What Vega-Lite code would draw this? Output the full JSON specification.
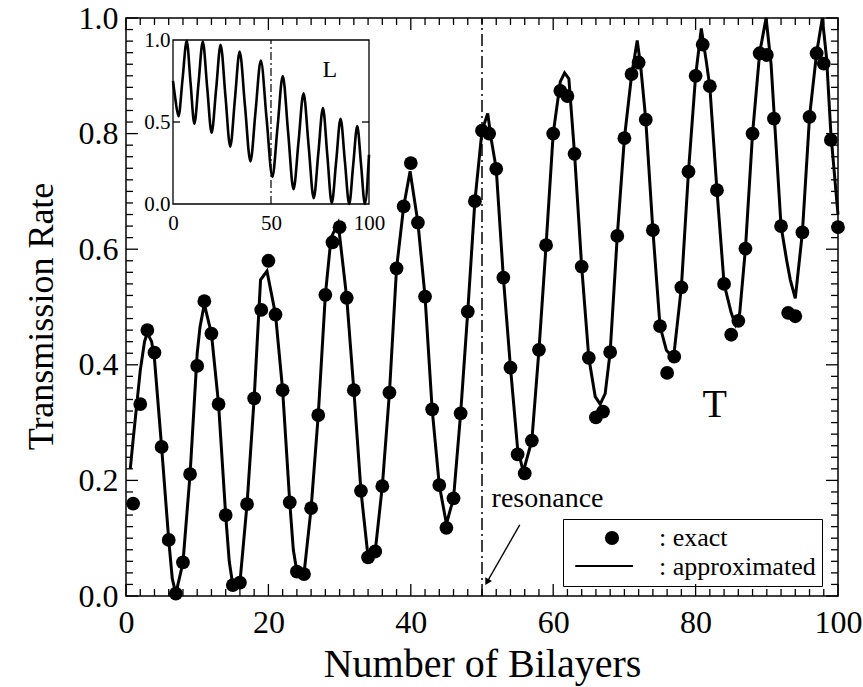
{
  "$schema": "https://vega.github.io/schema/vega-lite/v6.json",
  "width": 712,
  "height": 578,
  "autosize": {"type": "none"},
  "padding": {"left": 126, "top": 18, "right": 25, "bottom": 91},
  "background": "white",
  "config": {
    "view": {"stroke": "black", "strokeWidth": 1.5},
    "font": "Liberation Serif",
    "axis": {"domain": false, "grid": false, "labelColor": "black", "titleColor": "black", "labelFont": "Liberation Serif", "titleFont": "Liberation Serif", "titleFontWeight": "normal", "labelFlush": false, "labelOverlap": false}
  },
  "datasets": {
    "exact": [
      {"N":1,"T":0.160,"series":"exact"},{"N":2,"T":0.332,"series":"exact"},{"N":3,"T":0.460,"series":"exact"},{"N":4,"T":0.421,"series":"exact"},{"N":5,"T":0.258,"series":"exact"},
      {"N":6,"T":0.097,"series":"exact"},{"N":7,"T":0.004,"series":"exact"},{"N":8,"T":0.058,"series":"exact"},{"N":9,"T":0.211,"series":"exact"},{"N":10,"T":0.398,"series":"exact"},
      {"N":11,"T":0.510,"series":"exact"},{"N":12,"T":0.454,"series":"exact"},{"N":13,"T":0.332,"series":"exact"},{"N":14,"T":0.140,"series":"exact"},{"N":15,"T":0.019,"series":"exact"},
      {"N":16,"T":0.023,"series":"exact"},{"N":17,"T":0.159,"series":"exact"},{"N":18,"T":0.342,"series":"exact"},{"N":19,"T":0.495,"series":"exact"},{"N":20,"T":0.580,"series":"exact"},
      {"N":21,"T":0.487,"series":"exact"},{"N":22,"T":0.356,"series":"exact"},{"N":23,"T":0.162,"series":"exact"},{"N":24,"T":0.042,"series":"exact"},{"N":25,"T":0.038,"series":"exact"},
      {"N":26,"T":0.152,"series":"exact"},{"N":27,"T":0.313,"series":"exact"},{"N":28,"T":0.521,"series":"exact"},{"N":29,"T":0.612,"series":"exact"},{"N":30,"T":0.638,"series":"exact"},
      {"N":31,"T":0.516,"series":"exact"},{"N":32,"T":0.356,"series":"exact"},{"N":33,"T":0.182,"series":"exact"},{"N":34,"T":0.067,"series":"exact"},{"N":35,"T":0.077,"series":"exact"},
      {"N":36,"T":0.190,"series":"exact"},{"N":37,"T":0.352,"series":"exact"},{"N":38,"T":0.567,"series":"exact"},{"N":39,"T":0.674,"series":"exact"},{"N":40,"T":0.749,"series":"exact"},
      {"N":41,"T":0.646,"series":"exact"},{"N":42,"T":0.518,"series":"exact"},{"N":43,"T":0.323,"series":"exact"},{"N":44,"T":0.192,"series":"exact"},{"N":45,"T":0.118,"series":"exact"},
      {"N":46,"T":0.169,"series":"exact"},{"N":47,"T":0.316,"series":"exact"},{"N":48,"T":0.492,"series":"exact"},{"N":49,"T":0.683,"series":"exact"},{"N":50,"T":0.805,"series":"exact"},
      {"N":51,"T":0.800,"series":"exact"},{"N":52,"T":0.739,"series":"exact"},{"N":53,"T":0.551,"series":"exact"},{"N":54,"T":0.395,"series":"exact"},{"N":55,"T":0.245,"series":"exact"},
      {"N":56,"T":0.212,"series":"exact"},{"N":57,"T":0.269,"series":"exact"},{"N":58,"T":0.426,"series":"exact"},{"N":59,"T":0.607,"series":"exact"},{"N":60,"T":0.800,"series":"exact"},
      {"N":61,"T":0.874,"series":"exact"},{"N":62,"T":0.865,"series":"exact"},{"N":63,"T":0.765,"series":"exact"},{"N":64,"T":0.570,"series":"exact"},{"N":65,"T":0.412,"series":"exact"},
      {"N":66,"T":0.309,"series":"exact"},{"N":67,"T":0.319,"series":"exact"},{"N":68,"T":0.422,"series":"exact"},{"N":69,"T":0.623,"series":"exact"},{"N":70,"T":0.792,"series":"exact"},
      {"N":71,"T":0.903,"series":"exact"},{"N":72,"T":0.923,"series":"exact"},{"N":73,"T":0.824,"series":"exact"},{"N":74,"T":0.633,"series":"exact"},{"N":75,"T":0.467,"series":"exact"},
      {"N":76,"T":0.386,"series":"exact"},{"N":77,"T":0.414,"series":"exact"},{"N":78,"T":0.534,"series":"exact"},{"N":79,"T":0.734,"series":"exact"},{"N":80,"T":0.900,"series":"exact"},
      {"N":81,"T":0.954,"series":"exact"},{"N":82,"T":0.882,"series":"exact"},{"N":83,"T":0.702,"series":"exact"},{"N":84,"T":0.540,"series":"exact"},{"N":85,"T":0.452,"series":"exact"},
      {"N":86,"T":0.476,"series":"exact"},{"N":87,"T":0.601,"series":"exact"},{"N":88,"T":0.800,"series":"exact"},{"N":89,"T":0.939,"series":"exact"},{"N":90,"T":0.936,"series":"exact"},
      {"N":91,"T":0.826,"series":"exact"},{"N":92,"T":0.640,"series":"exact"},{"N":93,"T":0.490,"series":"exact"},{"N":94,"T":0.484,"series":"exact"},{"N":95,"T":0.629,"series":"exact"},
      {"N":96,"T":0.829,"series":"exact"},{"N":97,"T":0.939,"series":"exact"},{"N":98,"T":0.921,"series":"exact"},{"N":99,"T":0.789,"series":"exact"},{"N":100,"T":0.638,"series":"exact"}
    ],
    "approx": [
      {"N":0.6,"T":0.22},{"N":1,"T":0.27},{"N":2,"T":0.39},{"N":2.6,"T":0.44},{"N":3,"T":0.455},{"N":3.6,"T":0.44},{"N":4,"T":0.41},{"N":5,"T":0.258},{"N":6,"T":0.097},{"N":6.5,"T":0.03},
      {"N":7,"T":0.004},{"N":8,"T":0.058},{"N":9,"T":0.211},{"N":10,"T":0.42},{"N":10.4,"T":0.466},{"N":11,"T":0.505},{"N":12,"T":0.454},{"N":13,"T":0.332},{"N":14,"T":0.14},{"N":14.5,"T":0.06},
      {"N":15,"T":0.019},{"N":16,"T":0.023},{"N":17,"T":0.159},{"N":18,"T":0.342},{"N":18.9,"T":0.547},{"N":19.8,"T":0.562},{"N":21,"T":0.487},{"N":22,"T":0.356},{"N":23,"T":0.162},{"N":23.5,"T":0.08},
      {"N":24,"T":0.042},{"N":25,"T":0.038},{"N":26,"T":0.152},{"N":27,"T":0.313},{"N":28,"T":0.521},{"N":28.8,"T":0.62},{"N":29.8,"T":0.645},{"N":31,"T":0.516},{"N":32,"T":0.356},{"N":33,"T":0.182},
      {"N":34,"T":0.067},{"N":35,"T":0.077},{"N":36,"T":0.19},{"N":37,"T":0.352},{"N":38,"T":0.567},{"N":39,"T":0.674},{"N":39.9,"T":0.735},{"N":41,"T":0.646},{"N":42,"T":0.518},{"N":43,"T":0.323},
      {"N":44,"T":0.192},{"N":45,"T":0.125},{"N":46,"T":0.169},{"N":47,"T":0.316},{"N":48,"T":0.492},{"N":49,"T":0.683},{"N":50,"T":0.805},{"N":50.8,"T":0.835},{"N":51.3,"T":0.79},{"N":52,"T":0.739},
      {"N":53,"T":0.551},{"N":54,"T":0.395},{"N":55,"T":0.255},{"N":55.8,"T":0.215},{"N":57,"T":0.269},{"N":58,"T":0.426},{"N":59,"T":0.607},{"N":60,"T":0.80},{"N":61,"T":0.89},{"N":61.6,"T":0.905},
      {"N":62.2,"T":0.895},{"N":63,"T":0.765},{"N":64,"T":0.57},{"N":65,"T":0.412},{"N":65.9,"T":0.345},{"N":66.6,"T":0.332},{"N":67.3,"T":0.35},{"N":68,"T":0.422},{"N":69,"T":0.623},{"N":70,"T":0.792},
      {"N":71,"T":0.90},{"N":71.8,"T":0.961},{"N":72.3,"T":0.915},{"N":73,"T":0.824},{"N":74,"T":0.633},{"N":75,"T":0.467},{"N":75.9,"T":0.425},{"N":76.9,"T":0.412},{"N":78,"T":0.534},{"N":79,"T":0.734},
      {"N":80,"T":0.90},{"N":80.8,"T":0.982},{"N":81.5,"T":0.925},{"N":82,"T":0.881},{"N":83,"T":0.702},{"N":84,"T":0.54},{"N":85,"T":0.49},{"N":85.6,"T":0.47},{"N":86.2,"T":0.49},{"N":87,"T":0.601},
      {"N":88,"T":0.80},{"N":89,"T":0.94},{"N":89.9,"T":1.0},{"N":90.6,"T":0.92},{"N":91,"T":0.84},{"N":92,"T":0.64},{"N":92.8,"T":0.58},{"N":93.3,"T":0.547},{"N":94,"T":0.515},{"N":95,"T":0.629},
      {"N":96,"T":0.829},{"N":97,"T":0.94},{"N":97.8,"T":1.0},{"N":98.4,"T":0.93},{"N":99,"T":0.80},{"N":100,"T":0.66}
    ],
    "refl": [
      {"N":0,"L":0.75},{"N":1.2,"L":0.64},{"N":2.8,"L":0.535},{"N":4.9,"L":0.765},{"N":7,"L":0.995},{"N":8.95,"L":0.74},{"N":10.9,"L":0.49},{"N":13.05,"L":0.74},{"N":15.2,"L":0.99},
      {"N":17.45,"L":0.71},{"N":19.7,"L":0.435},{"N":22,"L":0.70},{"N":24.3,"L":0.97},{"N":26.75,"L":0.66},{"N":29.2,"L":0.35},{"N":31.6,"L":0.64},{"N":34,"L":0.93},{"N":36.75,"L":0.595},
      {"N":39.5,"L":0.26},{"N":42.15,"L":0.57},{"N":44.8,"L":0.875},{"N":47.75,"L":0.52},{"N":50.7,"L":0.165},{"N":53.35,"L":0.47},{"N":56,"L":0.78},{"N":58.75,"L":0.435},{"N":61.5,"L":0.09},
      {"N":64.05,"L":0.38},{"N":66.6,"L":0.675},{"N":69.2,"L":0.355},{"N":71.8,"L":0.035},{"N":74.15,"L":0.31},{"N":76.5,"L":0.585},{"N":78.75,"L":0.295},{"N":81,"L":0.005},{"N":83.25,"L":0.26},
      {"N":85.5,"L":0.52},{"N":87.7,"L":0.26},{"N":89.9,"L":0.0},{"N":91.95,"L":0.24},{"N":94,"L":0.475},{"N":95.95,"L":0.24},{"N":97.9,"L":0.0},{"N":100,"L":0.3}
    ],
    "xmaj": [{"v":0},{"v":20},{"v":40},{"v":60},{"v":80},{"v":100}],
    "xmin": [{"v":2},{"v":4},{"v":6},{"v":8},{"v":10},{"v":12},{"v":14},{"v":16},{"v":18},{"v":22},{"v":24},{"v":26},{"v":28},{"v":30},{"v":32},{"v":34},{"v":36},{"v":38},
             {"v":42},{"v":44},{"v":46},{"v":48},{"v":50},{"v":52},{"v":54},{"v":56},{"v":58},{"v":62},{"v":64},{"v":66},{"v":68},{"v":70},{"v":72},{"v":74},{"v":76},{"v":78},
             {"v":82},{"v":84},{"v":86},{"v":88},{"v":90},{"v":92},{"v":94},{"v":96},{"v":98}],
    "ymaj": [{"v":0},{"v":0.2},{"v":0.4},{"v":0.6},{"v":0.8},{"v":1}],
    "ymin": [{"v":0.02},{"v":0.04},{"v":0.06},{"v":0.08},{"v":0.1},{"v":0.12},{"v":0.14},{"v":0.16},{"v":0.18},{"v":0.22},{"v":0.24},{"v":0.26},{"v":0.28},{"v":0.3},{"v":0.32},{"v":0.34},{"v":0.36},{"v":0.38},
             {"v":0.42},{"v":0.44},{"v":0.46},{"v":0.48},{"v":0.5},{"v":0.52},{"v":0.54},{"v":0.56},{"v":0.58},{"v":0.62},{"v":0.64},{"v":0.66},{"v":0.68},{"v":0.7},{"v":0.72},{"v":0.74},{"v":0.76},{"v":0.78},
             {"v":0.82},{"v":0.84},{"v":0.86},{"v":0.88},{"v":0.9},{"v":0.92},{"v":0.94},{"v":0.96},{"v":0.98}]
  },
  "layer": [
    {
      "data": {"name": "xmaj"},
      "mark": {"type": "rule", "color": "black", "strokeWidth": 1.3},
      "encoding": {
        "x": {"field": "v", "type": "quantitative", "scale": {"domain": [0, 100], "nice": false, "zero": false}, "axis": null},
        "y": {"datum": 0, "type": "quantitative", "scale": {"domain": [0, 1], "nice": false, "zero": false}, "axis": null},
        "y2": {"datum": 0.0208}
      }
    },
    {
      "data": {"name": "xmin"},
      "mark": {"type": "rule", "color": "black", "strokeWidth": 1.3},
      "encoding": {
        "x": {"field": "v", "type": "quantitative", "scale": {"domain": [0, 100], "nice": false, "zero": false}, "axis": null},
        "y": {"datum": 0, "type": "quantitative", "scale": {"domain": [0, 1], "nice": false, "zero": false}, "axis": null},
        "y2": {"datum": 0.0121}
      }
    },
    {
      "data": {"name": "xmaj"},
      "mark": {"type": "rule", "color": "black", "strokeWidth": 1.3},
      "encoding": {
        "x": {"field": "v", "type": "quantitative", "scale": {"domain": [0, 100], "nice": false, "zero": false}, "axis": null},
        "y": {"datum": 1, "type": "quantitative", "scale": {"domain": [0, 1], "nice": false, "zero": false}, "axis": null},
        "y2": {"datum": 0.9792}
      }
    },
    {
      "data": {"name": "xmin"},
      "mark": {"type": "rule", "color": "black", "strokeWidth": 1.3},
      "encoding": {
        "x": {"field": "v", "type": "quantitative", "scale": {"domain": [0, 100], "nice": false, "zero": false}, "axis": null},
        "y": {"datum": 1, "type": "quantitative", "scale": {"domain": [0, 1], "nice": false, "zero": false}, "axis": null},
        "y2": {"datum": 0.9879}
      }
    },
    {
      "data": {"name": "ymaj"},
      "mark": {"type": "rule", "color": "black", "strokeWidth": 1.3},
      "encoding": {
        "y": {"field": "v", "type": "quantitative", "scale": {"domain": [0, 1], "nice": false, "zero": false}, "axis": null},
        "x": {"datum": 0, "type": "quantitative", "scale": {"domain": [0, 100], "nice": false, "zero": false}, "axis": null},
        "x2": {"datum": 1.69}
      }
    },
    {
      "data": {"name": "ymin"},
      "mark": {"type": "rule", "color": "black", "strokeWidth": 1.3},
      "encoding": {
        "y": {"field": "v", "type": "quantitative", "scale": {"domain": [0, 1], "nice": false, "zero": false}, "axis": null},
        "x": {"datum": 0, "type": "quantitative", "scale": {"domain": [0, 100], "nice": false, "zero": false}, "axis": null},
        "x2": {"datum": 0.98}
      }
    },
    {
      "data": {"name": "ymaj"},
      "mark": {"type": "rule", "color": "black", "strokeWidth": 1.3},
      "encoding": {
        "y": {"field": "v", "type": "quantitative", "scale": {"domain": [0, 1], "nice": false, "zero": false}, "axis": null},
        "x": {"datum": 100, "type": "quantitative", "scale": {"domain": [0, 100], "nice": false, "zero": false}, "axis": null},
        "x2": {"datum": 98.31}
      }
    },
    {
      "data": {"name": "ymin"},
      "mark": {"type": "rule", "color": "black", "strokeWidth": 1.3},
      "encoding": {
        "y": {"field": "v", "type": "quantitative", "scale": {"domain": [0, 1], "nice": false, "zero": false}, "axis": null},
        "x": {"datum": 100, "type": "quantitative", "scale": {"domain": [0, 100], "nice": false, "zero": false}, "axis": null},
        "x2": {"datum": 99.02}
      }
    },
    {
      "data": {"name": "approx"},
      "mark": {"type": "line", "color": "black", "strokeWidth": 3},
      "encoding": {
        "x": {"field": "N", "type": "quantitative", "scale": {"domain": [0, 100], "nice": false, "zero": false},
              "axis": {"orient": "bottom", "values": [0, 20, 40, 60, 80, 100], "format": "d", "ticks": false, "tickSize": 0, "labelFontSize": 32, "labelPadding": 11, "title": "Number of Bilayers", "titleFontSize": 40, "titleX": 356, "titleY": 80, "titleBaseline": "alphabetic", "titleAlign": "center"}},
        "y": {"field": "T", "type": "quantitative", "scale": {"domain": [0, 1], "nice": false, "zero": false},
              "axis": {"orient": "left", "values": [0, 0.2, 0.4, 0.6, 0.8, 1], "format": ".1f", "ticks": false, "tickSize": 0, "labelFontSize": 32, "labelPadding": 8, "title": "Transmission Rate", "titleFontSize": 36, "titleAngle": -90, "titleX": -74, "titleY": 298, "titleBaseline": "alphabetic", "titleAlign": "center"}}
      }
    },
    {
      "data": {"name": "exact"},
      "mark": {"type": "point", "filled": true, "color": "black", "size": 190, "opacity": 1},
      "encoding": {
        "x": {"field": "N", "type": "quantitative", "scale": {"domain": [0, 100], "nice": false, "zero": false}, "axis": null},
        "y": {"field": "T", "type": "quantitative", "scale": {"domain": [0, 1], "nice": false, "zero": false}, "axis": null},
        "shape": {"field": "series", "type": "nominal",
                  "scale": {"domain": ["exact", "approximated"], "range": ["circle", "M-2.05,0L2.05,0"]},
                  "legend": {"orient": "none", "legendX": 437, "legendY": 501, "title": null, "strokeColor": "black", "padding": 6,
                             "labelExpr": "': ' + datum.label", "labelFont": "Liberation Serif", "labelFontSize": 26, "labelColor": "black",
                             "symbolSize": 200, "symbolFillColor": "black", "symbolStrokeColor": "black", "symbolStrokeWidth": 2, "symbolOffset": 30, "labelOffset": 34, "rowPadding": 3}}
      }
    },
    {
      "data": {"values": [{}]},
      "mark": {"type": "rule", "color": "black", "strokeWidth": 1.5, "strokeDash": [12, 4, 2, 4]},
      "encoding": {
        "x": {"datum": 50, "type": "quantitative", "scale": {"domain": [0, 100], "nice": false, "zero": false}, "axis": null},
        "y": {"datum": 0, "type": "quantitative", "scale": {"domain": [0, 1], "nice": false, "zero": false}, "axis": null},
        "y2": {"datum": 1}
      }
    },
    {
      "data": {"values": [{}]},
      "mark": {"type": "text", "text": "T", "font": "Liberation Serif", "fontSize": 40, "align": "center", "baseline": "middle", "color": "black"},
      "encoding": {
        "x": {"datum": 82.7, "type": "quantitative", "scale": {"domain": [0, 100], "nice": false, "zero": false}, "axis": null},
        "y": {"datum": 0.33, "type": "quantitative", "scale": {"domain": [0, 1], "nice": false, "zero": false}, "axis": null}
      }
    },
    {
      "data": {"values": [{}]},
      "mark": {"type": "text", "text": "resonance", "font": "Liberation Serif", "fontSize": 28, "align": "left", "baseline": "alphabetic", "color": "black"},
      "encoding": {
        "x": {"datum": 51.35, "type": "quantitative", "scale": {"domain": [0, 100], "nice": false, "zero": false}, "axis": null},
        "y": {"datum": 0.1545, "type": "quantitative", "scale": {"domain": [0, 1], "nice": false, "zero": false}, "axis": null}
      }
    },
    {
      "data": {"values": [{}]},
      "mark": {"type": "rule", "color": "black", "strokeWidth": 1.3},
      "encoding": {
        "x": {"datum": 55.3, "type": "quantitative", "scale": {"domain": [0, 100], "nice": false, "zero": false}, "axis": null},
        "y": {"datum": 0.123, "type": "quantitative", "scale": {"domain": [0, 1], "nice": false, "zero": false}, "axis": null},
        "x2": {"datum": 50.7},
        "y2": {"datum": 0.024}
      }
    },
    {
      "data": {"values": [{}]},
      "mark": {"type": "point", "shape": "triangle-down", "filled": true, "color": "black", "size": 60, "angle": 29, "opacity": 1},
      "encoding": {
        "x": {"datum": 50.7, "type": "quantitative", "scale": {"domain": [0, 100], "nice": false, "zero": false}, "axis": null},
        "y": {"datum": 0.024, "type": "quantitative", "scale": {"domain": [0, 1], "nice": false, "zero": false}, "axis": null}
      }
    },
    {
      "data": {"values": [{}]},
      "mark": {"type": "rule", "color": "black", "strokeWidth": 2},
      "encoding": {
        "x": {"datum": 63.1, "type": "quantitative", "scale": {"domain": [0, 100], "nice": false, "zero": false}, "axis": null},
        "x2": {"datum": 71.2},
        "y": {"datum": 0.052, "type": "quantitative", "scale": {"domain": [0, 1], "nice": false, "zero": false}, "axis": null}
      }
    },
    {
      "data": {"values": [{}]},
      "mark": {"type": "rect", "fill": "white", "stroke": "black", "strokeWidth": 1.3},
      "encoding": {
        "x": {"datum": 0, "type": "quantitative", "scale": {"domain": [0, 100], "range": [47, 243], "nice": false, "zero": false}, "axis": null},
        "x2": {"datum": 100},
        "y": {"datum": 0, "type": "quantitative", "scale": {"domain": [0, 1], "range": [186, 22], "nice": false, "zero": false}, "axis": null},
        "y2": {"datum": 1}
      }
    },
    {
      "data": {"values": [{}]},
      "mark": {"type": "rule", "color": "black", "strokeWidth": 1.3},
      "encoding": {
        "x": {"datum": 0, "type": "quantitative", "scale": {"domain": [0, 100], "range": [47, 243], "nice": false, "zero": false}, "axis": null},
        "x2": {"datum": 3.6},
        "y": {"datum": 0.5, "type": "quantitative", "scale": {"domain": [0, 1], "range": [186, 22], "nice": false, "zero": false}, "axis": null}
      }
    },
    {
      "data": {"values": [{}]},
      "mark": {"type": "rule", "color": "black", "strokeWidth": 1.3},
      "encoding": {
        "x": {"datum": 100, "type": "quantitative", "scale": {"domain": [0, 100], "range": [47, 243], "nice": false, "zero": false}, "axis": null},
        "x2": {"datum": 96.4},
        "y": {"datum": 0.5, "type": "quantitative", "scale": {"domain": [0, 1], "range": [186, 22], "nice": false, "zero": false}, "axis": null}
      }
    },
    {
      "data": {"name": "refl"},
      "mark": {"type": "line", "color": "black", "strokeWidth": 2.6, "interpolate": "monotone"},
      "encoding": {
        "x": {"field": "N", "type": "quantitative", "scale": {"domain": [0, 100], "range": [47, 243], "nice": false, "zero": false},
              "axis": {"orient": "bottom", "offset": -392, "zindex": 3, "values": [0, 50, 100], "format": "d", "ticks": false, "tickSize": 0, "labelFontSize": 21, "labelPadding": 8, "title": null}},
        "y": {"field": "L", "type": "quantitative", "scale": {"domain": [0, 1], "range": [186, 22], "nice": false, "zero": false},
              "axis": {"orient": "left", "offset": -47, "zindex": 3, "values": [0, 0.5, 1], "format": ".1f", "ticks": false, "tickSize": 0, "labelFontSize": 21, "labelPadding": 3, "title": null}}
      }
    },
    {
      "data": {"values": [{}]},
      "mark": {"type": "rule", "color": "black", "strokeWidth": 1.2, "strokeDash": [8, 3, 2, 3]},
      "encoding": {
        "x": {"datum": 50, "type": "quantitative", "scale": {"domain": [0, 100], "range": [47, 243], "nice": false, "zero": false}, "axis": null},
        "y": {"datum": 0, "type": "quantitative", "scale": {"domain": [0, 1], "range": [186, 22], "nice": false, "zero": false}, "axis": null},
        "y2": {"datum": 1}
      }
    },
    {
      "data": {"values": [{}]},
      "mark": {"type": "text", "text": "L", "font": "Liberation Serif", "fontSize": 24, "align": "center", "baseline": "middle", "color": "black"},
      "encoding": {
        "x": {"datum": 80, "type": "quantitative", "scale": {"domain": [0, 100], "range": [47, 243], "nice": false, "zero": false}, "axis": null},
        "y": {"datum": 0.82, "type": "quantitative", "scale": {"domain": [0, 1], "range": [186, 22], "nice": false, "zero": false}, "axis": null}
      }
    }
  ],
  "resolve": {
    "scale": {"x": "independent", "y": "independent", "shape": "independent"},
    "axis": {"x": "independent", "y": "independent"},
    "legend": {"shape": "independent"}
  }
}
